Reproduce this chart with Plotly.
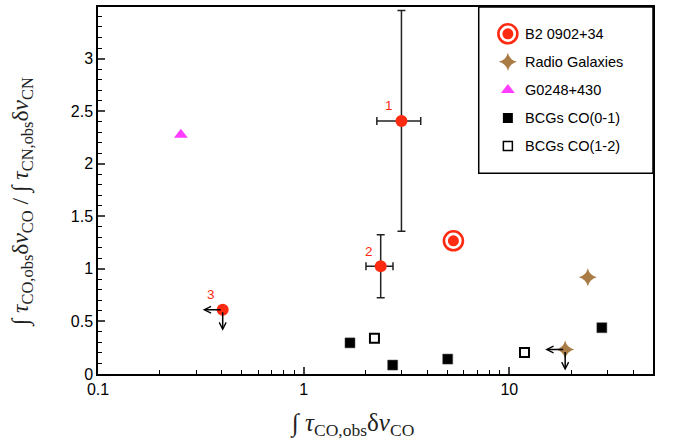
import numpy as np
import plotly.graph_objects as go

# ---------------- data ----------------
b2_x = [5.35]
b2_y = [1.267]

num_labels = ["1", "2", "3"]
num_x = [2.99, 2.37, 0.404]
num_y = [2.407, 1.024, 0.611]
num_xerr_plus = [0.72, 0.35, 0.0]
num_xerr_minus = [0.72, 0.36, 0.0]
num_yerr = [1.05, 0.30, 0.0]
num_limit = [False, False, True]

rg_x = [24.1, 18.7]
rg_y = [0.92, 0.233]
rg_limit = [False, True]

g0248_x = [0.253]
g0248_y = [2.275]

bcg01_x = [1.68, 2.71, 5.02, 28.2]
bcg01_y = [0.296, 0.085, 0.142, 0.44]

bcg12_x = [2.21, 11.86]
bcg12_y = [0.34, 0.205]

x_tickvals = [0.1, 1, 10]
x_ticktext = ["0.1", "1", "10"]
legend_labels = ["B2 0902+34", "Radio Galaxies", "G0248+430", "BCGs CO(0-1)", "BCGs CO(1-2)"]

RED = "#ff2a12"
BROWN = "#a97b45"
MAGENTA = "#ff3cff"

fig = go.Figure()

# numbered points with error bars
fig.add_trace(go.Scatter(
    x=num_x, y=num_y, mode="markers",
    marker=dict(symbol="circle", size=12, color=RED),
    error_x=dict(type="data", array=num_xerr_plus, arrayminus=num_xerr_minus,
                 color="#222222", thickness=1.5, width=4),
    error_y=dict(type="data", array=num_yerr, color="#222222", thickness=1.5, width=4),
    showlegend=False, hoverinfo="x+y"))

# B2 0902+34: ring + dot
fig.add_trace(go.Scatter(x=b2_x, y=b2_y, mode="markers",
                         marker=dict(symbol="circle", size=19, color="white",
                                     line=dict(color=RED, width=2.6)),
                         showlegend=False))
fig.add_trace(go.Scatter(x=b2_x, y=b2_y, mode="markers",
                         marker=dict(symbol="circle", size=11, color=RED),
                         showlegend=False))

# radio galaxies
fig.add_trace(go.Scatter(x=rg_x, y=rg_y, mode="markers",
                         marker=dict(symbol="star-diamond", size=13, color=BROWN),
                         showlegend=False))
# G0248
fig.add_trace(go.Scatter(x=g0248_x, y=g0248_y, mode="markers",
                         marker=dict(symbol="triangle-up", size=12, color=MAGENTA),
                         showlegend=False))
# BCGs
fig.add_trace(go.Scatter(x=bcg01_x, y=bcg01_y, mode="markers",
                         marker=dict(symbol="square", size=10, color="black",
                                     line=dict(color="#444", width=0.5)),
                         showlegend=False))
fig.add_trace(go.Scatter(x=bcg12_x, y=bcg12_y, mode="markers",
                         marker=dict(symbol="square", size=9, color="white",
                                     line=dict(color="black", width=2)),
                         showlegend=False))

annotations = []


def limit_arrows(xv, yv):
    lx = float(np.log10(xv))
    common = dict(x=lx, y=yv, xref="x", yref="y", text=" ", showarrow=True,
                  arrowhead=5, arrowsize=0.9, arrowwidth=1.5, arrowcolor="black",
                  font=dict(size=2))
    annotations.append(dict(common, xshift=-20, ax=20, ay=0))
    annotations.append(dict(common, yshift=-21, ax=0, ay=-21))


for i in range(len(num_x)):
    annotations.append(dict(x=float(np.log10(num_x[i])), y=num_y[i], xref="x", yref="y",
                            text=num_labels[i], showarrow=False, xshift=-12, yshift=15,
                            font=dict(family="Liberation Sans", size=13.5, color=RED)))
    if num_limit[i]:
        limit_arrows(num_x[i], num_y[i])
for i in range(len(rg_x)):
    if rg_limit[i]:
        limit_arrows(rg_x[i], rg_y[i])

# ---------------- manual legend ----------------
leg_sym_x = 0.7385
leg_txt_x = 0.766
leg_y0 = 0.927
leg_dy = 0.0765
leg_rows = [leg_y0 - k * leg_dy for k in range(len(legend_labels))]
leg_styles = [
    [dict(symbol="circle", size=19, color="white", line=dict(color=RED, width=2.6)),
     dict(symbol="circle", size=11, color=RED)],
    [dict(symbol="star-diamond", size=13, color=BROWN)],
    [dict(symbol="triangle-up", size=12, color=MAGENTA)],
    [dict(symbol="square", size=10, color="black")],
    [dict(symbol="square", size=9, color="white", line=dict(color="black", width=1.5))],
]
for k, lab in enumerate(legend_labels):
    for st in leg_styles[k]:
        fig.add_trace(go.Scatter(x=[leg_sym_x], y=[leg_rows[k]], xaxis="x2", yaxis="y2",
                                 mode="markers", marker=st, showlegend=False, hoverinfo="skip"))
    annotations.append(dict(x=leg_txt_x, y=leg_rows[k], xref="paper", yref="paper",
                            text=lab, showarrow=False, xanchor="left", yanchor="middle",
                            font=dict(family="Liberation Sans", size=14.5, color="black")))

# axis titles
annotations.append(dict(
    x=0.457, y=-0.138, xref="paper", yref="paper", showarrow=False,
    xanchor="center", yanchor="middle",
    text="∫ <i>τ</i><sub>CO,obs</sub>δ<i>v</i><sub>CO</sub>",
    font=dict(family="Liberation Serif", size=25, color="#222")))
annotations.append(dict(
    x=-0.137, y=0.468, xref="paper", yref="paper", showarrow=False, textangle=-90,
    xanchor="center", yanchor="middle",
    text="∫ <i>τ</i><sub>CO,obs</sub>δ<i>v</i><sub>CO</sub> / ∫ <i>τ</i><sub>CN,obs</sub>δ<i>v</i><sub>CN</sub>",
    font=dict(family="Liberation Serif", size=23.5, color="#222")))

minor_x = [m * 10.0 ** d for d in (-1, 0, 1) for m in range(2, 10) if m * 10.0 ** d < 50]

fig.update_layout(
    width=673, height=445,
    margin=dict(l=98, r=20, t=5, b=71),
    paper_bgcolor="white", plot_bgcolor="white",
    font=dict(family="Liberation Sans", size=16, color="black"),
    showlegend=False,
    annotations=annotations,
    shapes=[dict(type="rect", xref="paper", yref="paper", x0=0.686, x1=1.0, y0=0.547, y1=1.0,
                 line=dict(color="black", width=1.5), fillcolor="rgba(0,0,0,0)")],
    xaxis=dict(type="log", range=[-1, np.log10(50)], showline=True, linecolor="black",
               linewidth=1.5, mirror=True, ticks="inside", ticklen=7, tickwidth=1.5,
               tickmode="array", tickvals=x_tickvals, ticktext=x_ticktext,
               minor=dict(tickvals=minor_x, ticks="inside", ticklen=4, tickwidth=1,
                          tickcolor="black", showgrid=False),
               showgrid=False, zeroline=False),
    yaxis=dict(range=[0, 3.49], showline=True, linecolor="black", linewidth=1.5, mirror=True,
               ticks="inside", ticklen=7, tickwidth=1.5, dtick=0.5, tick0=0,
               minor=dict(dtick=0.1, ticks="inside", ticklen=4, tickwidth=1,
                          tickcolor="black", showgrid=False),
               showgrid=False, zeroline=False),
    xaxis2=dict(domain=[0, 1], anchor="y2", overlaying="x", range=[0, 1], visible=False),
    yaxis2=dict(domain=[0, 1], anchor="x2", overlaying="y", range=[0, 1], visible=False),
)

fig.write_html("out.html", config={"displayModeBar": False},
               post_script="document.body.style.margin='0px';document.body.style.overflow='hidden';")
